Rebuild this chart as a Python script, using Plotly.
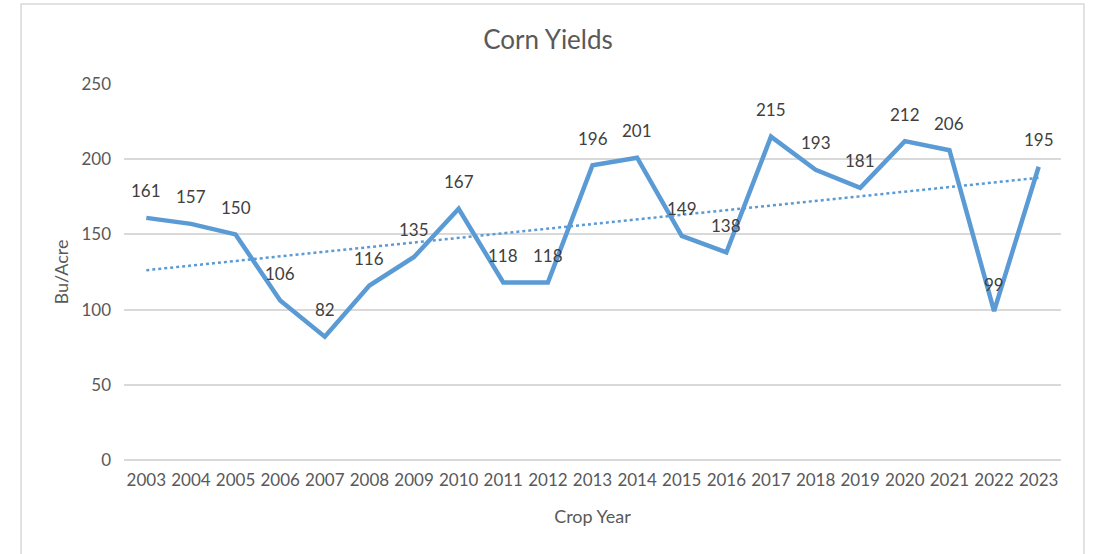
import numpy as np
import plotly.graph_objects as go

years = [str(y) for y in range(2003, 2024)]
yields = [161, 157, 150, 106, 82, 116, 135, 167, 118, 118, 196, 201,
          149, 138, 215, 193, 181, 212, 206, 99, 195]

blue = "#5B9BD5"
font_family = "Lato, 'Open Sans', sans-serif"

# linear trendline like Excel's
idx = np.arange(len(yields))
slope, intercept = np.polyfit(idx, yields, 1)
trend = slope * idx + intercept

fig = go.Figure()
fig.add_trace(go.Scatter(x=years, y=trend, mode="lines",
                         line=dict(color=blue, width=2.5, dash="dot"),
                         hoverinfo="skip"))
fig.add_trace(go.Scatter(x=years, y=yields, mode="lines",
                         line=dict(color=blue, width=4.5)))

# data labels above each point (x as category index)
for i, v in enumerate(yields):
    fig.add_annotation(x=i, y=v, text=str(v), showarrow=False, yshift=27,
                       font=dict(size=17, color="#404040", family=font_family))

# chart area border
fig.add_shape(type="rect", xref="paper", yref="paper",
              x0=-0.1099, x1=1.0245, y0=-0.3, y1=1.2128,
              line=dict(color="#D9D9D9", width=1.5), layer="below")

fig.update_layout(
    width=1096, height=554,
    margin=dict(l=124, r=35, t=84, b=94),
    paper_bgcolor="white", plot_bgcolor="white",
    showlegend=False,
    font=dict(family=font_family, color="#595959", size=17),
    title=dict(text="Corn Yields", x=0.5, xanchor="center", y=0.928, yanchor="middle",
               font=dict(size=26, color="#595959")),
    xaxis=dict(title=dict(text="Crop Year", standoff=21, font=dict(size=18)),
               type="category", range=[-0.5, 20.5], showgrid=False,
               showline=False, ticks="", tickfont=dict(size=17),
               ticklabelstandoff=8),
    yaxis=dict(title=dict(text="Bu/Acre", standoff=8, font=dict(size=18)),
               range=[0, 250], dtick=50, showgrid=True, gridcolor="#D9D9D9",
               gridwidth=1.5, zeroline=True, zerolinecolor="#D9D9D9", zerolinewidth=1.5,
               showline=False, ticks="", tickfont=dict(size=17),
               ticklabelstandoff=12),
)

fig.write_html("out.html", config={"displayModeBar": False},
               post_script="document.body.style.margin='0';")
